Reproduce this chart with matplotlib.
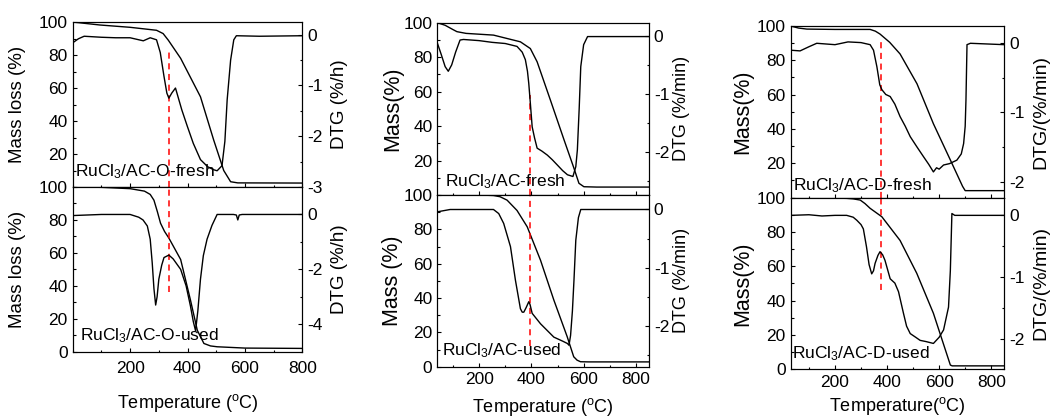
import numpy as np
import matplotlib.pyplot as plt
from matplotlib.ticker import MultipleLocator

plt.rcParams['font.family'] = ['Liberation Sans', 'DejaVu Sans']
plt.rcParams['mathtext.default'] = 'regular'
plt.rcParams['axes.unicode_minus'] = False

# ---- RuCl3/AC-O (fresh / used) ----
o_fresh_tg_t = [0, 95, 200, 292, 315, 333, 376, 445, 491, 526, 550, 575, 800]
o_fresh_tg = [100, 98.2, 96.8, 95, 93, 89, 78, 54.7, 28.5, 10, 3.2, 2.5, 2.4]
o_fresh_dtg_t = [0, 20, 40, 100, 150, 200, 246, 270, 292, 305, 318, 328, 335, 345, 358,
                 380, 399, 420, 445, 470, 491, 503, 520, 530, 538, 550, 561, 570, 650, 800]
o_fresh_dtg = [-0.16, -0.08, -0.03, -0.05, -0.06, -0.06, -0.12, -0.06, -0.1, -0.35, -0.82,
               -1.15, -1.25, -1.15, -1.05, -1.48, -1.80, -2.14, -2.46, -2.6, -2.66, -2.68,
               -2.58, -2.1, -1.28, -0.5, -0.1, -0.02, -0.03, -0.02]

o_used_tg_t = [0, 100, 200, 250, 270, 283, 295, 306, 320, 335, 376, 410, 434, 457, 480, 503, 600, 800]
o_used_tg = [100, 99.8, 99, 97.5, 95.5, 92, 85, 78, 73, 69, 56, 31.5, 13, 5, 3.5, 3, 2.2, 2]
o_used_dtg_t = [0, 100, 200, 215, 230, 245, 260, 270, 277, 283, 289, 294, 300, 310, 318, 335,
                350, 376, 395, 410, 420, 428, 436, 445, 455, 468, 485, 503, 560, 570, 575,
                580, 590, 800]
o_used_dtg = [-0.04, 0, 0, -0.05, -0.1, -0.2, -0.42, -0.9, -1.76, -2.7, -3.3, -3.0, -2.36,
              -1.85, -1.57, -1.48, -1.62, -2.0, -2.6, -3.33, -3.9, -4.24, -3.5, -2.36, -1.5,
              -0.9, -0.4, 0, 0, -0.02, -0.2, -0.02, 0, 0]

# ---- RuCl3/AC (fresh / used) ----
ac_fresh_tg_t = [40, 70, 100, 115, 150, 255, 358, 396, 422, 473, 525, 563, 582, 601, 650, 850]
ac_fresh_tg = [100, 98.5, 96, 94.8, 93.8, 92.8, 88.9, 85, 77.3, 55, 32, 15.5, 6.8, 4.8, 4.6, 4.6]
ac_fresh_dtg_t = [40, 55, 70, 82, 95, 110, 127, 140, 200, 250, 300, 345, 365, 377, 385, 390,
                  396, 403, 412, 422, 440, 461, 480, 499, 520, 538, 559, 570, 576, 583, 589,
                  600, 615, 700, 850]
ac_fresh_dtg = [-0.12, -0.32, -0.53, -0.61, -0.5, -0.28, -0.07, -0.06, -0.08, -0.11, -0.13,
                -0.18, -0.28, -0.41, -0.61, -0.82, -1.16, -1.57, -1.76, -1.94, -1.99, -2.06,
                -2.14, -2.23, -2.33, -2.4, -2.43, -2.26, -1.97, -1.25, -0.53, -0.15, -0.01,
                -0.01, -0.01]

ac_used_tg_t = [40, 200, 255, 280, 307, 345, 384, 435, 486, 537, 562, 575, 588, 620, 850]
ac_used_tg = [100, 100, 99.7, 99, 97, 91, 81.5, 62, 38.8, 17.5, 5.8, 3.8, 2.9, 2.8, 2.8]
ac_used_dtg_t = [40, 89, 150, 200, 255, 275, 294, 320, 339, 358, 365, 371, 380, 390, 395, 403,
                 435, 486, 520, 538, 544, 550, 557, 563, 570, 580, 589, 650, 850]
ac_used_dtg = [-0.04, 0, 0, 0, 0, -0.07, -0.24, -0.64, -1.22, -1.71, -1.77, -1.77, -1.69,
               -1.59, -1.64, -1.79, -1.97, -2.2, -2.27, -2.31, -2.34, -2.17, -1.75, -1.22,
               -0.53, -0.14, 0, 0, 0]

# ---- RuCl3/AC-D (fresh / used) ----
d_fresh_tg_t = [30, 60, 92, 200, 335, 355, 373, 410, 450, 515, 578, 643, 690, 700, 850]
d_fresh_tg = [100, 98.8, 98.2, 98, 98, 97, 95.3, 90.5, 83.7, 66.3, 43, 21.9, 6.5, 4, 4]
d_fresh_dtg_t = [30, 66, 100, 130, 200, 250, 300, 335, 348, 361, 372, 380, 395, 412, 430, 450,
                 470, 489, 515, 540, 560, 578, 590, 600, 617, 640, 668, 685, 694, 700, 703,
                 707, 720, 850]
d_fresh_dtg = [-0.1, -0.11, -0.05, 0, -0.02, 0.02, 0.01, -0.02, -0.1, -0.34, -0.6, -0.67,
               -0.74, -0.77, -0.88, -1.06, -1.2, -1.35, -1.5, -1.64, -1.75, -1.86, -1.8,
               -1.82, -1.76, -1.74, -1.69, -1.6, -1.45, -1.2, -0.82, -0.02, 0, -0.02]

d_used_tg_t = [30, 150, 245, 270, 297, 315, 335, 380, 450, 514, 578, 643, 650, 850]
d_used_tg = [100, 99.8, 99.5, 99.2, 98.5, 96.5, 93.7, 88.8, 75, 55.9, 32.6, 2.5, 2, 2]
d_used_dtg_t = [30, 100, 150, 200, 245, 270, 284, 300, 309, 321, 331, 341, 348, 354, 365, 373,
                383, 392, 412, 430, 444, 463, 475, 489, 510, 527, 550, 578, 600, 617, 636,
                643, 649, 660, 700, 850]
d_used_dtg = [0, 0.01, -0.01, 0, 0, -0.03, -0.08, -0.15, -0.22, -0.51, -0.8, -0.95, -0.9,
              -0.78, -0.65, -0.59, -0.64, -0.73, -1.03, -1.1, -1.24, -1.59, -1.8, -1.92,
              -1.98, -2.03, -2.05, -2.08, -1.98, -1.86, -1.49, -0.9, 0.03, 0, 0, 0]

# 每列: (左, 宽, 上图下边, 上图高, 下图下边, 下图高)
cols = [
    dict(rect=(0.0690, 0.2182, 0.5526, 0.3947, 0.1586, 0.3940), xlim=(0, 800),
         sets=[(o_fresh_tg_t, o_fresh_tg, o_fresh_dtg_t, o_fresh_dtg, (-3, 0.25), 1, 0.5,
                'RuCl$_3$/AC-O-fresh', (0.010, 0.062), 'Mass loss (%)', (0, 82)),
               (o_used_tg_t, o_used_tg, o_used_dtg_t, o_used_dtg, (-5, 1), 2, 1,
                'RuCl$_3$/AC-O-used', (0.032, 0.067), 'Mass loss (%)', (36, 100))],
         dtg_label='DTG (%/h)', red=334, xlabel='Temperature ($^o$C)',
         ylab_x=(-0.205, 1.125), xlab_y=-0.245, xpad=7, fs_l=13.5, fs_r=13.5),
    dict(rect=(0.4153, 0.2010, 0.5335, 0.4122, 0.1227, 0.4108), xlim=(40, 850),
         sets=[(ac_fresh_tg_t, ac_fresh_tg, ac_fresh_dtg_t, ac_fresh_dtg, (-2.75, 0.23), 1, 0.5,
                'RuCl$_3$/AC-fresh', (0.036, 0.052), 'Mass(%)', (0, 58)),
               (ac_used_tg_t, ac_used_tg, ac_used_dtg_t, ac_used_dtg, (-2.71, 0.25), 1, 0.5,
                'RuCl$_3$/AC-used', (0.021, 0.064), 'Mass (%)', (12, 100))],
         dtg_label='DTG (%/min)', red=396, xlabel='Temperature ($^o$C)',
         ylab_x=(-0.162, 1.112), xlab_y=-0.172, xpad=4, fs_l=15.5, fs_r=13),
    dict(rect=(0.7509, 0.2028, 0.5275, 0.4103, 0.1165, 0.4110), xlim=(30, 850),
         sets=[(d_fresh_tg_t, d_fresh_tg, d_fresh_dtg_t, d_fresh_dtg, (-2.23, 0.25), 1, 0.5,
                'RuCl$_3$/AC-D-fresh', (0.011, 0.044), 'Mass(%)', (0, 93)),
               (d_used_tg_t, d_used_tg, d_used_dtg_t, d_used_dtg, (-2.5, 0.29), 1, 0.5,
                'RuCl$_3$/AC-D-used', (0.005, 0.064), 'Mass(%)', (46, 100))],
         dtg_label='DTG/(%/min)', red=377, xlabel='Temperature($^o$C)',
         ylab_x=(-0.176, 1.13), xlab_y=-0.15, xpad=4, fs_l=15.5, fs_r=14),
]

fig = plt.figure(figsize=(10.53, 4.18), dpi=100)
fs_tick = 12.5
fs_lab = 13


def style(ax):
    ax.tick_params(which='both', direction='in', labelsize=fs_tick, width=0.8)
    ax.tick_params(which='major', length=3)
    ax.tick_params(which='minor', length=1.8)
    for s in ax.spines.values():
        s.set_linewidth(0.8)


for c in cols:
    x0, w, yt, ht, yb, hb = c['rect']
    for i, (tt, tg, dt, dtg, dlim, dmaj, dmin, name, npos, ylab, red_span) in enumerate(c['sets']):
        if i == 0:
            ax = fig.add_axes([x0, yt, w, ht])
        else:
            ax = fig.add_axes([x0, yb, w, hb])
        ax.plot(tt, tg, color='black', lw=1.0)
        ax.vlines(c['red'], red_span[0], red_span[1], colors='red', linestyles=(0, (4, 3)), lw=1.1)
        ax.set_xlim(*c['xlim'])
        ax.set_ylim(0, 100)
        ax.set_xticks([200, 400, 600, 800])
        ax.xaxis.set_minor_locator(MultipleLocator(100))
        ax.yaxis.set_major_locator(MultipleLocator(20))
        ax.yaxis.set_minor_locator(MultipleLocator(10))
        style(ax)
        if i == 0:
            ax.set_yticks([20, 40, 60, 80, 100])
            ax.tick_params(axis='x', labelbottom=False)
        else:
            ax.tick_params(axis='x', pad=c['xpad'])
            ax.set_xlabel(c['xlabel'], fontsize=fs_lab)
            ax.xaxis.set_label_coords(0.5, c['xlab_y'])
        ax.set_ylabel(ylab, fontsize=c['fs_l'])
        ax.yaxis.set_label_coords(c['ylab_x'][0], 0.5)
        ax.text(npos[0], npos[1], name, transform=ax.transAxes, fontsize=fs_tick,
                ha='left', va='baseline')

        ax2 = ax.twinx()
        ax2.plot(dt, dtg, color='black', lw=1.0)
        ax2.set_ylim(*dlim)
        ax2.yaxis.set_major_locator(MultipleLocator(dmaj))
        ax2.yaxis.set_minor_locator(MultipleLocator(dmin))
        style(ax2)
        ax2.set_ylabel(c['dtg_label'], fontsize=c['fs_r'])
        ax2.yaxis.set_label_coords(c['ylab_x'][1], 0.5)

fig.savefig('out.png', dpi=100)
